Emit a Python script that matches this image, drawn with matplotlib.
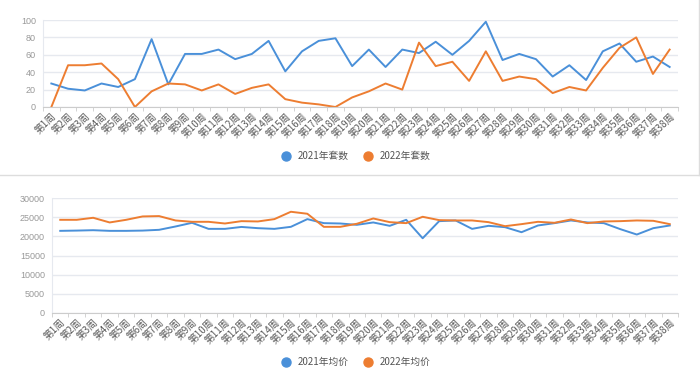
import numpy as np
import matplotlib
matplotlib.use("Agg")
import matplotlib.pyplot as plt
from matplotlib.lines import Line2D

plt.rcParams['font.family'] = ['Noto Sans CJK SC', 'DejaVu Sans']

weeks = ["第%d周" % i for i in range(1, 39)]

# 套数
sets_2021 = [27, 21, 19, 27, 23, 32, 78, 26, 61, 61, 66, 55,
             61, 76, 41, 64, 76, 79, 47, 66, 46, 66, 62, 75,
             60, 76, 98, 54, 61, 55, 35, 48, 31, 64, 73, 52,
             58, 46]
sets_2022 = [0, 48, 48, 50, 32, 0, 18, 27, 26, 19, 26, 15,
             22, 26, 9, 5, 3, 0, 11, 18, 27, 20, 74, 47,
             52, 30, 64, 30, 35, 32, 16, 23, 19, 45, 68, 80,
             38, 66]

# 均价
price_2021 = [21430, 21500, 21600, 21430, 21430, 21500, 21700, 22570, 23530, 21950,
              21950, 22450, 22130, 21950, 22480, 24490, 23440, 23350, 23000, 23620,
              22740, 24310, 19500, 23960, 24140, 21950, 22740, 22390, 21080, 22830,
              23440, 24140, 23620, 23440, 21870, 20470, 22130, 22830]
price_2022 = [24310, 24310, 24840, 23620, 24310, 25190, 25280, 24140, 23790, 23790,
              23350, 23960, 23880, 24490, 26410, 25890, 22480, 22480, 23270, 24660,
              23700, 23440, 25100, 24230, 24140, 24140, 23700, 22650, 23180, 23790,
              23530, 24400, 23440, 23880, 23960, 24140, 24050, 23180]

BLUE = "#4A90D9"
ORANGE = "#ED7D31"
GRID = "#E6E9EF"
TXT = "#999999"

W, H = 700, 381
fig = plt.figure(figsize=(W / 100, H / 100), dpi=100)


def make_ax(left, right, top, bottom):
    return fig.add_axes([left / W, 1 - bottom / H, (right - left) / W, (bottom - top) / H])


def style(ax, y1, y2, labels):
    x = np.arange(len(weeks))
    ax.set_xlim(-0.5, len(weeks) - 0.5)
    ax.set_xticks(x)
    ax.set_xticklabels(weeks, rotation=45, ha="right", rotation_mode="anchor",
                       fontsize=7, color="#5A5A5A")
    ax.tick_params(axis="x", which="major", length=0, pad=3)
    ax.set_xticks(np.arange(-0.5, len(weeks)), minor=True)
    ax.tick_params(axis="x", which="minor", length=3, color="#CCCCCC")
    ax.tick_params(axis="y", length=0, labelsize=6.5, labelcolor=TXT, pad=5)
    for t in ax.get_yticklabels():
        t.set_family("Liberation Sans")
    ax.grid(axis="y", color=GRID, linewidth=1)
    ax.set_axisbelow(True)
    for s in ["top", "right"]:
        ax.spines[s].set_visible(False)
    ax.spines["left"].set_color(GRID)
    ax.spines["bottom"].set_color("#CCCCCC")
    ax.plot(x, y1, color=BLUE, linewidth=1.4, label=labels[0])
    ax.plot(x, y2, color=ORANGE, linewidth=1.4, label=labels[1])


ax1 = make_ax(43, 678, 20, 107)
ax1.set_ylim(0, 100)
ax1.set_yticks(range(0, 101, 20))
style(ax1, sets_2021, sets_2022, ["2021年套数", "2022年套数"])

ax2 = make_ax(52, 678, 198, 313)
ax2.set_ylim(0, 30000)
ax2.set_yticks(range(0, 30001, 5000))
style(ax2, price_2021, price_2022, ["2021年均价", "2022年均价"])


def legend(labels, ycenter):
    handles = [Line2D([], [], marker="o", linestyle="none", markersize=6.5, color=c)
               for c in (BLUE, ORANGE)]
    fig.legend(handles, labels, loc="center", bbox_to_anchor=(353 / W, 1 - ycenter / H),
               ncol=2, frameon=False, fontsize=7, labelcolor="#555555",
               handletextpad=0.2, columnspacing=1.0)


legend(["2021年套数", "2022年套数"], 156)
legend(["2021年均价", "2022年均价"], 362)

# 上图外框（下边、右边）
fig.add_artist(Line2D([0, 699 / W], [1 - 175 / H, 1 - 175 / H], color="#DDDDDD", linewidth=1))
fig.add_artist(Line2D([699 / W, 699 / W], [1, 1 - 175 / H], color="#DDDDDD", linewidth=1))

fig.savefig("out.png", dpi=100, facecolor="white")
